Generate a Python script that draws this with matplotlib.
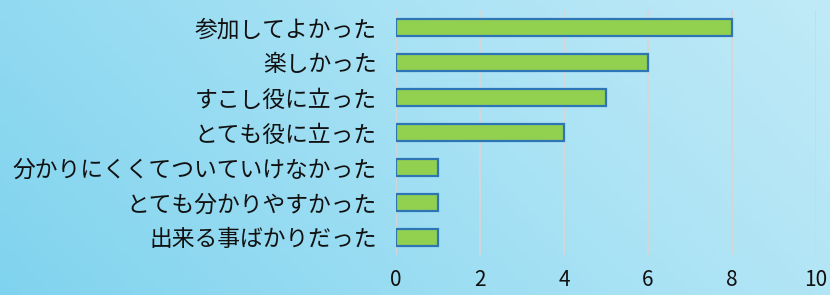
import matplotlib
matplotlib.use("Agg")
import matplotlib.pyplot as plt
import numpy as np
from matplotlib.colors import LinearSegmentedColormap

plt.rcParams['font.family'] = ['Noto Sans CJK JP', 'DejaVu Sans']

categories = ["参加してよかった", "楽しかった", "すこし役に立った", "とても役に立った",
              "分かりにくくてついていけなかった", "とても分かりやすかった", "出来る事ばかりだった"]
values = [8, 6, 5, 4, 1, 1, 1]
xticks = [0, 2, 4, 6, 8, 10]

fig = plt.figure(figsize=(8.3, 2.95), dpi=100)

# soft background
bg = fig.add_axes([0, 0, 1, 1], zorder=-10)
gx = np.linspace(0, 1, 200)
gy = np.linspace(0, 1, 80)
X, Y = np.meshgrid(gx, gy)
field = 0.5 + 0.3 * X - 0.1 * Y
cmap = LinearSegmentedColormap.from_list("bgc", ["#6fcdec", "#abe3f5", "#dcf3fa"])
bg.imshow(field, cmap=cmap, aspect='auto', extent=[0, 1, 0, 1], vmin=0.3, vmax=1.0)
bg.axis('off')

ax = fig.add_axes([0.4771, 0.1356, 0.506, 0.8305])
ax.patch.set_alpha(0)
y = np.arange(len(categories))
ax.barh(y, values, height=0.48, color="#92d050", edgecolor="#2e75b6", linewidth=1.6, zorder=3)
ax.set_ylim(len(categories) - 0.5, -0.5)
ax.set_yticks(y)
ax.set_yticklabels(categories, fontsize=16.4, color="#111111")
ax.set_xlim(0, 10)
ax.set_xticks(xticks)
ax.set_xticklabels([str(t) for t in xticks], fontsize=15, color="#111111")
ax.tick_params(axis='y', length=0, pad=14)
ax.tick_params(axis='x', length=0, pad=10)
ax.grid(axis='x', color="#d6d6d6", linewidth=1.3, zorder=0)
for s in ax.spines.values():
    s.set_visible(False)

fig.savefig("out.png", dpi=100)
